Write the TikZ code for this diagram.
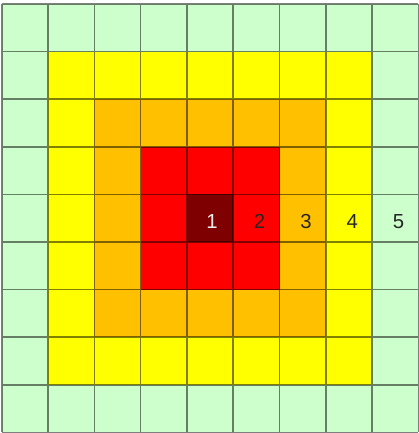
\documentclass[tikz,border=0pt]{standalone}
\usepackage{fontspec}
\setmainfont{Liberation Sans}
\usetikzlibrary{positioning}
\definecolor{ring0}{HTML}{7F0000}
\definecolor{ring1}{HTML}{FF0000}
\definecolor{ring2}{HTML}{FFC000}
\definecolor{ring3}{HTML}{FFFF00}
\definecolor{ring4}{HTML}{CCFFCC}

\begin{document}
\begin{tikzpicture}[x=1cm,y=-1.028cm,
  gridline/.style={draw=black,draw opacity=0.5,line width=1pt},
  num/.style={font=\fontsize{12.5}{14}\selectfont,inner sep=0pt}]
\useasboundingbox (-0.037,-0.084) rectangle (8.991,9.013);

% Rings round the centre cell
\foreach \i in {0,...,8} {
  \foreach \j in {0,...,8} {
    \pgfmathtruncatemacro{\d}{max(abs(\i-4),abs(\j-4))}
    \fill[ring\d] (\i,\j) rectangle ++(1,1);
  }
}

% Grid
\draw[gridline]
  \foreach \k in {0,...,9} {(\k,0) -- (\k,9) (0,\k) -- (9,\k)};

% Ring numbers
\node[num,text=white!92!black] (lab1) at (4.54,4.57) {1};
\foreach \n in {2,...,5} {
  \node[num,text=black!85] (lab\n) at (\n+3.57,4.57) {\n};
}
\end{tikzpicture}
\end{document}
